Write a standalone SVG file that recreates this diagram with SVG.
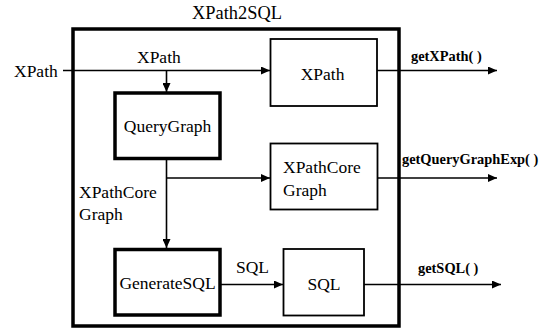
<svg xmlns="http://www.w3.org/2000/svg" width="550" height="330" viewBox="0 0 550 330">
  <style>
    .lbl { font-family: "Liberation Serif", "Times New Roman", serif; font-size: 17.5px; fill: #000; }
    .title { font-family: "Liberation Serif", "Times New Roman", serif; font-size: 18.4px; fill: #000; }
    .api { font-family: "Liberation Serif", "Times New Roman", serif; font-size: 14.4px; font-weight: bold; fill: #000; }
    .thick { fill: #fff; stroke: #000; stroke-width: 3.5; }
    .thin { fill: #fff; stroke: #000; stroke-width: 1.8; }
    .wire { fill: none; stroke: #000; stroke-width: 1.6; }
  </style>
  <defs>
    <marker id="arrow" markerUnits="userSpaceOnUse" markerWidth="10" markerHeight="8" refX="9" refY="4" orient="auto">
      <path d="M0,0 L9,4 L0,8 Z" fill="#000"/>
    </marker>
  </defs>

  <rect width="550" height="330" fill="#fff"/>

  <!-- Enclosing component -->
  <g id="xpath2sql">
    <rect class="thick" x="73" y="29" width="326" height="297"/>
    <text class="title" x="237" y="19" text-anchor="middle">XPath2SQL</text>
  </g>

  <!-- Connectors -->
  <g id="connectors">
    <line class="wire" x1="63" y1="70.5" x2="270" y2="70.5" marker-end="url(#arrow)"/>
    <line class="wire" x1="166.5" y1="70.5" x2="166.5" y2="92" marker-end="url(#arrow)"/>
    <line class="wire" x1="166.5" y1="159" x2="166.5" y2="248" marker-end="url(#arrow)"/>
    <line class="wire" x1="166.5" y1="178" x2="270" y2="178" marker-end="url(#arrow)"/>
    <line class="wire" x1="220" y1="284.5" x2="283" y2="284.5" marker-end="url(#arrow)"/>
    <line class="wire" x1="377" y1="70.5" x2="497" y2="70.5" marker-end="url(#arrow)"/>
    <line class="wire" x1="377" y1="178" x2="497" y2="178" marker-end="url(#arrow)"/>
    <line class="wire" x1="364" y1="284.5" x2="501" y2="284.5" marker-end="url(#arrow)"/>
    <text class="lbl" x="14" y="77">XPath</text>
    <text class="lbl" x="137" y="63">XPath</text>
    <text class="lbl" x="79" y="198">XPathCore</text>
    <text class="lbl" x="79" y="219.5">Graph</text>
    <text class="lbl" x="236" y="273">SQL</text>
    <text class="api" x="411" y="61">getXPath( )</text>
    <text class="api" x="402" y="164">getQueryGraphExp( )</text>
    <text class="api" x="418" y="273">getSQL( )</text>
  </g>

  <g id="querygraph">
    <rect class="thick" x="115" y="93" width="105" height="65.5"/>
    <text class="lbl" x="167.5" y="131.5" text-anchor="middle">QueryGraph</text>
  </g>

  <g id="generatesql">
    <rect class="thick" x="115" y="249.5" width="105" height="65.5"/>
    <text class="lbl" x="167.5" y="288.5" text-anchor="middle">GenerateSQL</text>
  </g>

  <g id="xpath-store">
    <rect class="thin" x="270.5" y="39" width="106.5" height="67"/>
    <text class="lbl" x="322.5" y="80" text-anchor="middle">XPath</text>
  </g>

  <g id="xpathcore-store">
    <rect class="thin" x="270.5" y="143.5" width="107" height="66"/>
    <text class="lbl" x="283" y="173">XPathCore</text>
    <text class="lbl" x="283" y="195.5">Graph</text>
  </g>

  <g id="sql-store">
    <rect class="thin" x="283.5" y="249" width="80.5" height="66.5"/>
    <text class="lbl" x="324" y="290" text-anchor="middle">SQL</text>
  </g>
</svg>
